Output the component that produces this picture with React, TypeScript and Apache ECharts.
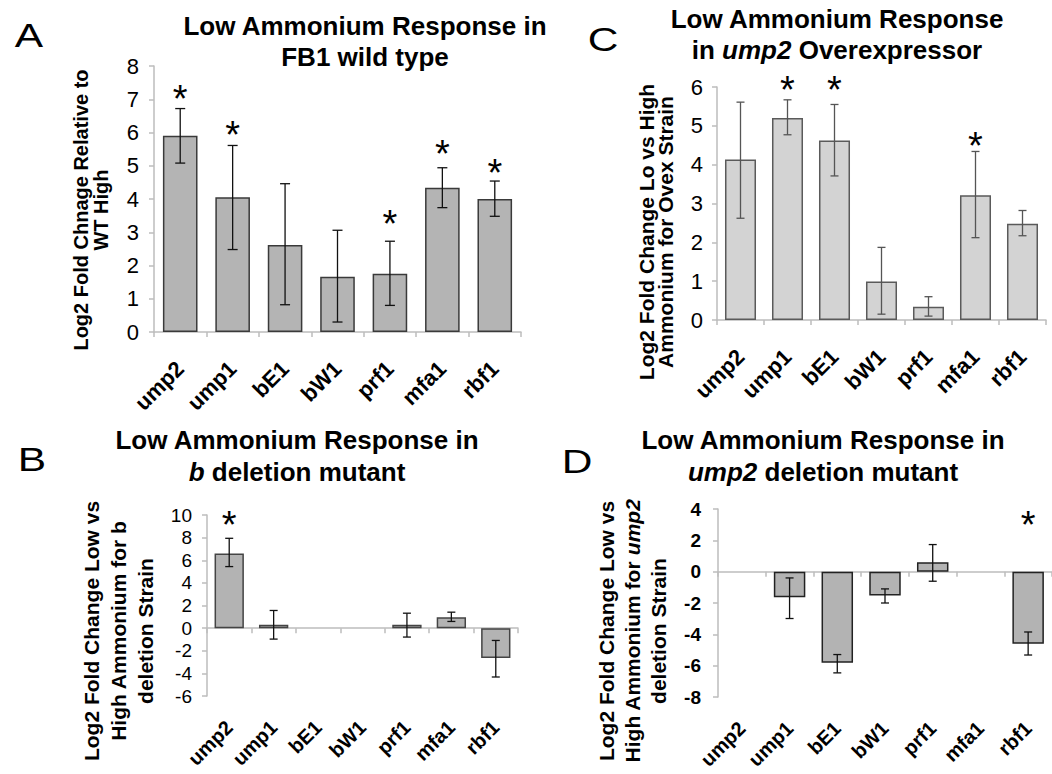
import React, { useEffect, useRef } from 'react';
import * as echarts from 'echarts';

const FONT = '"Liberation Sans", Arial, Helvetica, sans-serif';

const genes = ['ump2', 'ump1', 'bE1', 'bW1', 'prf1', 'mfa1', 'rbf1'];

// Panel A: FB1 wild type
const aMeans = [5.9, 4.05, 2.62, 1.66, 1.75, 4.34, 4.0];
const aLow = [5.08, 2.48, 0.82, 0.3, 0.8, 3.74, 3.48];
const aHigh = [6.72, 5.61, 4.46, 3.06, 2.73, 4.94, 4.54];
const aStars = [7.27, 6.19, null, null, 3.51, 5.64, 5.06];
const aAxis = { min: 0, max: 8, interval: 1 };

// Panel C: ump2 overexpressor
const cMeans = [4.13, 5.2, 4.62, 0.99, 0.34, 3.21, 2.48];
const cLow = [2.62, 4.77, 3.71, 0.15, 0.1, 2.12, 2.17];
const cHigh = [5.61, 5.67, 5.55, 1.87, 0.6, 4.34, 2.82];
const cStars = [null, 6.15, 6.15, null, null, 4.71, null];
const cAxis = { min: 0, max: 6, interval: 1 };

// Panel B: b deletion mutant
const bMeans = [6.6, 0.3, null, null, 0.3, 0.97, -2.65];
const bLow = [5.44, -0.97, null, null, -0.79, 0.59, -4.32];
const bHigh = [7.94, 1.56, null, null, 1.32, 1.41, -1.09];
const bStars = [9.9, null, null, null, null, null, null];
const bAxis = { min: -6, max: 10, interval: 2 };

// Panel D: ump2 deletion mutant
const dMeans = [null, -1.63, -5.82, -1.52, 0.6, null, -4.6];
const dLow = [null, -2.99, -6.46, -2.0, -0.61, null, -5.32];
const dHigh = [null, -0.4, -5.29, -1.1, 1.73, null, -3.85];
const dStars = [null, null, null, null, null, null, 3.53];
const dAxis = { min: -8, max: 4, interval: 2 };

function errData(low: (number | null)[], high: (number | null)[]) {
  const out: number[][] = [];
  low.forEach((l, i) => {
    const h = high[i];
    if (l != null && h != null) out.push([i, l, h]);
  });
  return out;
}

function starData(stars: (number | null)[]) {
  const out: number[][] = [];
  stars.forEach((s, i) => {
    if (s != null) out.push([i, s]);
  });
  return out;
}

function errRender(color: string, cap: number) {
  return (params: any, api: any) => {
    const x = api.value(0);
    const p1 = api.coord([x, api.value(2)]);
    const p2 = api.coord([x, api.value(1)]);
    const h = cap / 2;
    const st = { stroke: color, lineWidth: 1.3 };
    return {
      type: 'group',
      children: [
        { type: 'line', shape: { x1: p1[0], y1: p1[1], x2: p2[0], y2: p2[1] }, style: st },
        { type: 'line', shape: { x1: p1[0] - h, y1: p1[1], x2: p1[0] + h, y2: p1[1] }, style: st },
        { type: 'line', shape: { x1: p2[0] - h, y1: p2[1], x2: p2[0] + h, y2: p2[1] }, style: st },
      ],
    };
  };
}

function starRender(size: number) {
  return (params: any, api: any) => {
    const p = api.coord([api.value(0), api.value(1)]);
    return {
      type: 'text',
      x: p[0],
      y: p[1] + size * 0.24,
      style: {
        text: '*',
        fontSize: size,
        fontFamily: FONT,
        fill: '#000',
        align: 'center',
        verticalAlign: 'middle',
      },
    };
  };
}

const AXIS_GRAY = '#bdbdbd';

function labelXAxis(gridIndex: number, showLine: boolean, fontSize: number, margin: number) {
  return {
    type: 'category',
    gridIndex,
    data: genes,
    position: 'bottom',
    axisLine: { show: showLine, onZero: false, lineStyle: { color: AXIS_GRAY, width: 1.5 } },
    axisTick: { show: showLine, length: 5, lineStyle: { color: AXIS_GRAY, width: 1.5 } },
    axisLabel: {
      rotate: 45,
      align: 'right',
      verticalAlign: 'middle',
      margin,
      interval: 0,
      color: '#000',
      fontWeight: 'bold',
      fontSize,
      fontFamily: FONT,
    },
  };
}

function zeroXAxis(gridIndex: number) {
  return {
    type: 'category',
    gridIndex,
    data: genes,
    position: 'bottom',
    axisLine: { show: true, onZero: true, lineStyle: { color: AXIS_GRAY, width: 1.5 } },
    axisTick: { show: true, length: 5, lineStyle: { color: AXIS_GRAY, width: 1.5 } },
    axisLabel: { show: false },
  };
}

function yAxis(gridIndex: number, ax: { min: number; max: number; interval: number }, fontSize: number, bold: boolean, margin: number) {
  return {
    type: 'value',
    gridIndex,
    min: ax.min,
    max: ax.max,
    interval: ax.interval,
    splitLine: { show: false },
    axisLine: { show: true, onZero: false, lineStyle: { color: AXIS_GRAY, width: 1.5 } },
    axisTick: { show: true, length: 5, lineStyle: { color: AXIS_GRAY, width: 1.5 } },
    axisLabel: {
      color: '#000',
      fontSize,
      fontWeight: bold ? 'bold' : 'normal',
      fontFamily: FONT,
      margin,
    },
  };
}

function barSeries(xi: number, yi: number, data: (number | null)[], fill: string, border: string) {
  return {
    type: 'bar',
    xAxisIndex: xi,
    yAxisIndex: yi,
    data: data.map((v) => (v == null ? '-' : v)),
    barWidth: '66%',
    itemStyle: { color: fill, borderColor: border, borderWidth: 1.5 },
    z: 2,
  };
}

function errSeries(xi: number, yi: number, low: (number | null)[], high: (number | null)[], color: string, cap: number) {
  return {
    type: 'custom',
    xAxisIndex: xi,
    yAxisIndex: yi,
    data: errData(low, high),
    encode: { x: 0, y: [1, 2] },
    renderItem: errRender(color, cap),
    z: 5,
  };
}

function starSeries(xi: number, yi: number, stars: (number | null)[]) {
  return {
    type: 'custom',
    xAxisIndex: xi,
    yAxisIndex: yi,
    data: starData(stars),
    encode: { x: 0, y: 1 },
    renderItem: starRender(38),
    z: 6,
  };
}

function titleText(x: number, y: number, text: string, lineHeight: number, fontSize: number) {
  const base = { fontFamily: FONT, fontSize, fontWeight: 'bold', fill: '#000', lineHeight };
  return {
    type: 'text',
    x,
    y,
    style: {
      text,
      ...base,
      align: 'center',
      verticalAlign: 'middle',
      rich: {
        b: { ...base },
        i: { ...base, fontStyle: 'italic' },
      },
    },
  };
}

function yName(x: number, y: number, text: string, lineHeight: number, fontSize: number) {
  const base = { fontFamily: FONT, fontSize, fontWeight: 'bold', fill: '#000', lineHeight };
  return {
    type: 'text',
    x,
    y,
    rotation: Math.PI / 2,
    style: {
      text,
      ...base,
      align: 'center',
      verticalAlign: 'middle',
      rich: {
        b: { ...base },
        i: { ...base, fontStyle: 'italic' },
      },
    },
  };
}

function letter(x: number, y: number, text: string) {
  return {
    type: 'text',
    x,
    y,
    scaleX: 1.25,
    style: {
      text,
      fontFamily: FONT,
      fontSize: 34,
      fill: '#000',
      align: 'center',
      verticalAlign: 'middle',
    },
  };
}

export default function App() {
  const ref = useRef<HTMLDivElement>(null);

  useEffect(() => {
    document.body.style.margin = '0';
    if (!ref.current) return;
    const chart = echarts.init(ref.current, undefined, { renderer: 'svg' });

    const option: any = {
      animation: false,
      backgroundColor: '#fff',
      textStyle: { fontFamily: FONT },
      grid: [
        { left: 154, top: 66, width: 367, height: 266, outerBoundsMode: 'none', containLabel: false },
        { left: 717, top: 87, width: 329, height: 233, outerBoundsMode: 'none', containLabel: false },
        { left: 207, top: 515, width: 311, height: 181, outerBoundsMode: 'none', containLabel: false },
        { left: 718, top: 509, width: 334, height: 188, outerBoundsMode: 'none', containLabel: false },
      ],
      xAxis: [
        labelXAxis(0, true, 22, 33),
        labelXAxis(1, true, 22, 33),
        labelXAxis(2, false, 20, 28),
        labelXAxis(3, false, 20, 28),
        zeroXAxis(2),
        zeroXAxis(3),
      ],
      yAxis: [
        yAxis(0, aAxis, 22, false, 15),
        yAxis(1, cAxis, 22, false, 14),
        yAxis(2, bAxis, 19, false, 15),
        yAxis(3, dAxis, 19, true, 17),
      ],
      series: [
        barSeries(0, 0, aMeans, '#b4b4b4', '#3a3a3a'),
        errSeries(0, 0, aLow, aHigh, '#111', 10),
        starSeries(0, 0, aStars),

        barSeries(1, 1, cMeans, '#d3d3d3', '#5a5a5a'),
        errSeries(1, 1, cLow, cHigh, '#555', 8),
        starSeries(1, 1, cStars),

        barSeries(2, 2, bMeans, '#b3b3b3', '#444'),
        errSeries(2, 2, bLow, bHigh, '#111', 8),
        starSeries(2, 2, bStars),

        barSeries(3, 3, dMeans, '#b3b3b3', '#222'),
        errSeries(3, 3, dLow, dHigh, '#111', 8),
        starSeries(3, 3, dStars),
      ],
      graphic: [
        letter(29, 35, 'A'),
        letter(603, 39, 'C'),
        letter(32, 459, 'B'),
        letter(577, 461, 'D'),
        titleText(365, 41, 'Low Ammonium Response in\nFB1 wild type', 31, 26),
        titleText(837, 34, '{b|Low Ammonium Response}\n{b|in }{i|ump2}{b| Overexpressor}', 31, 26),
        titleText(297, 456, '{b|Low Ammonium Response in}\n{i|b}{b| deletion mutant}', 32, 26),
        titleText(823, 456, '{b|Low Ammonium Response in}\n{i|ump2}{b| deletion mutant}', 32, 26),
        yName(91, 210, 'Log2 Fold Chnage Relative to\nWT High', 20, 20),
        yName(656, 232, 'Log2 Fold Change Lo vs High\nAmmonium for Ovex Strain', 19, 21),
        yName(118, 631, 'Log2 Fold Change Low vs\nHigh Ammonium for b\ndeletion Strain', 27, 21),
        yName(632, 631, '{b|Log2 Fold Change Low vs}\n{b|High Ammonium for }{i|ump2}\n{b|deletion Strain}', 26, 21),
      ],
    };

    chart.setOption(option);
    return () => {
      chart.dispose();
    };
  }, []);

  return <div ref={ref} style={{ width: 1052, height: 774, background: '#fff' }} />;
}
